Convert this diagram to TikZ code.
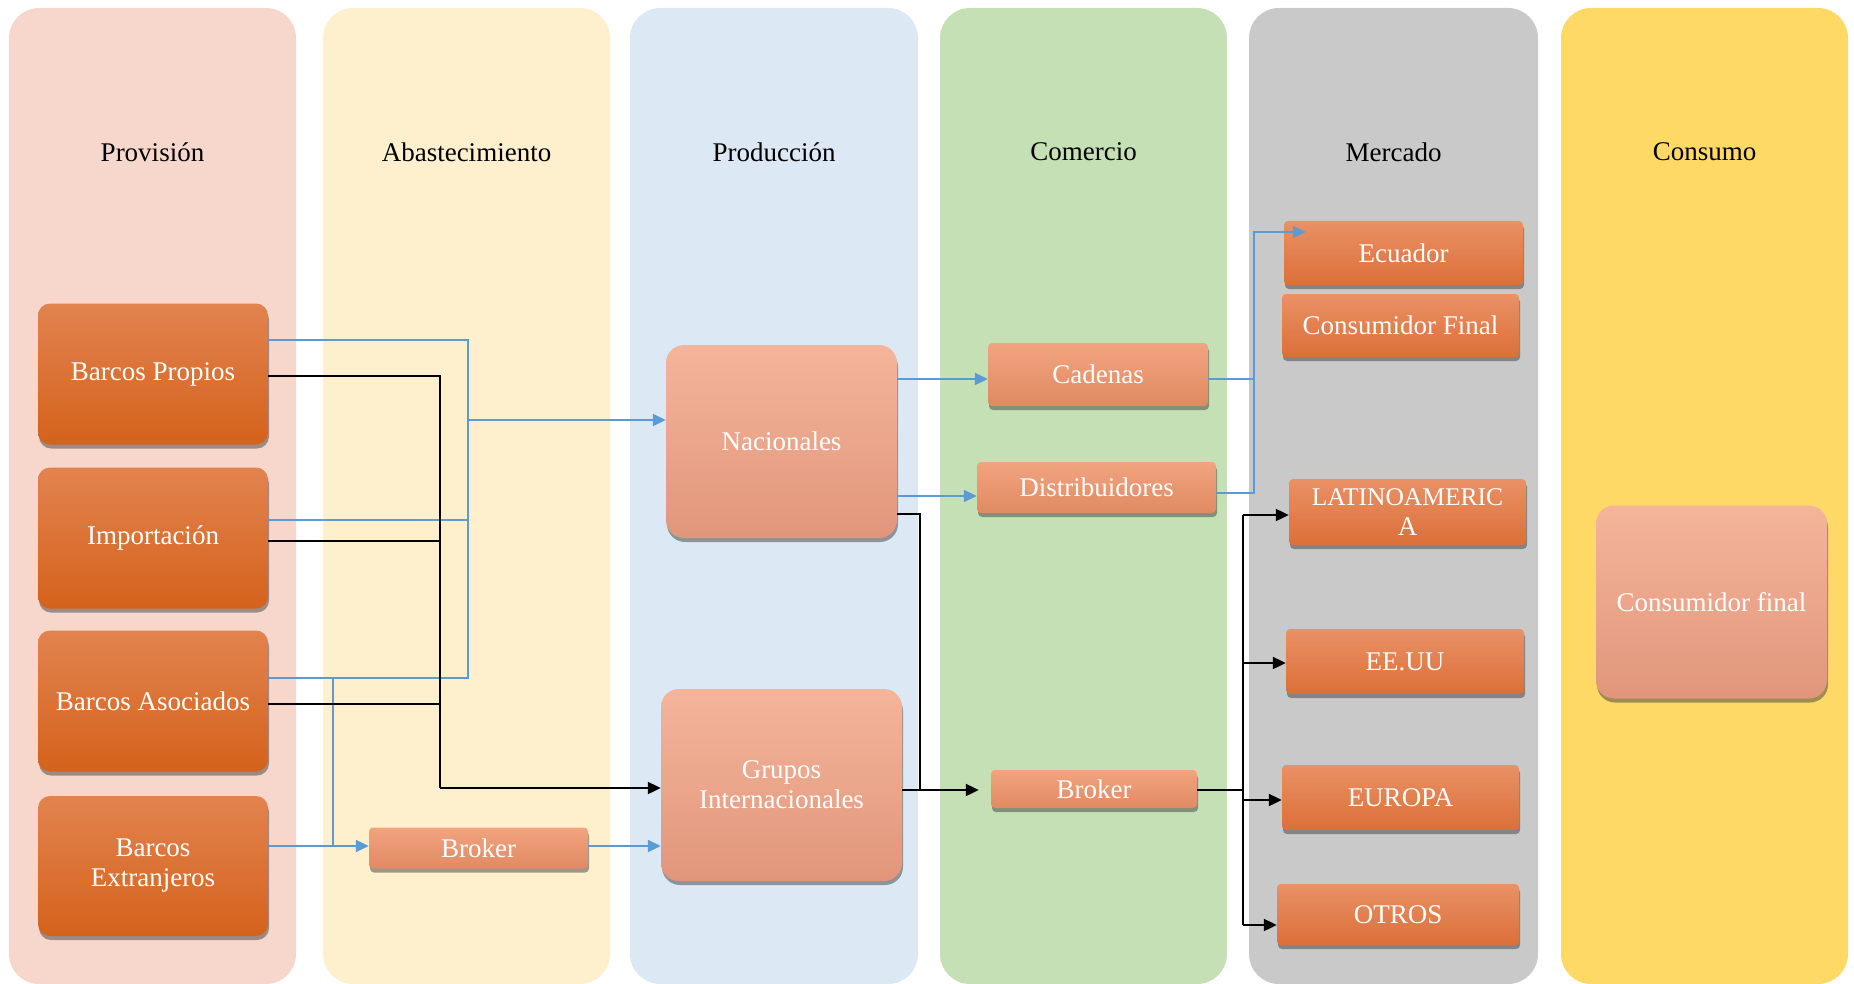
\documentclass[tikz,border=0pt]{standalone}
\usepackage{fontspec}
\setmainfont{Liberation Serif}
\usetikzlibrary{arrows.meta,shadows,calc}
\definecolor{laneA}{HTML}{F7D7CC}
\definecolor{laneB}{HTML}{FFF0CD}
\definecolor{laneC}{HTML}{DDE8F5}
\definecolor{laneD}{HTML}{C5E0B4}
\definecolor{laneE}{HTML}{C9C9C9}
\definecolor{laneF}{HTML}{FFD966}
\definecolor{darkT}{HTML}{E2834F}
\definecolor{darkB}{HTML}{D4621C}
\definecolor{mktT}{HTML}{E99166}
\definecolor{mktB}{HTML}{DC6F38}
\definecolor{salT}{HTML}{F4B59B}
\definecolor{salB}{HTML}{E1967B}
\definecolor{midT}{HTML}{F1A47F}
\definecolor{midB}{HTML}{E08A63}
\definecolor{blueL}{HTML}{5B9BD5}
\tikzset{
  lanetitle/.style={font=\fontsize{27}{30}\selectfont, text=black},
  boxbase/.style={rectangle, text=white, align=center, inner sep=2pt,
    font=\fontsize{27}{30}\selectfont,
    drop shadow={shadow xshift=1pt, shadow yshift=-4pt, opacity=0.5, fill=black!75}},
  darkbox/.style={boxbase, top color=darkT, bottom color=darkB, rounded corners=12pt,
    minimum width=230pt, minimum height=141pt},
  mktbox/.style={boxbase, top color=mktT, bottom color=mktB, rounded corners=4pt,
    minimum width=238pt},
  salbox/.style={boxbase, top color=salT, bottom color=salB, rounded corners=18pt,
    minimum width=231pt, minimum height=193pt},
  midbox/.style={boxbase, top color=midT, bottom color=midB, rounded corners=4pt},
  bl/.style={draw=blueL, line width=2pt},
  bk/.style={draw=black, line width=2.1pt},
  tip/.style={-{Triangle[length=13pt,width=12pt]}}
}
\begin{document}
\begin{tikzpicture}[x=1pt,y=-1pt]
\useasboundingbox (0,0) rectangle (1854,984);
% lanes
\fill[laneA, rounded corners=30pt] (9,8) rectangle (296,984);
\fill[laneB, rounded corners=30pt] (323,8) rectangle (610,984);
\fill[laneC, rounded corners=30pt] (630,8) rectangle (918,984);
\fill[laneD, rounded corners=30pt] (940,8) rectangle (1227,984);
\fill[laneE, rounded corners=30pt] (1249,8) rectangle (1538,984);
\fill[laneF, rounded corners=30pt] (1561,8) rectangle (1848,984);
% titles
\node[lanetitle] (t1) at (152.5,152) {Provisión};
\node[lanetitle] (t2) at (466.5,152) {Abastecimiento};
\node[lanetitle] (t3) at (774,152) {Producción};
\node[lanetitle] (t4) at (1083.5,152) {Comercio};
\node[lanetitle] (t5) at (1393.5,152) {Mercado};
\node[lanetitle] (t6) at (1704.5,152) {Consumo};
% provision
\node[darkbox] (BP) at (153,374) {Barcos Propios};
\node[darkbox] (IM) at (153,538) {Importación};
\node[darkbox] (BA) at (153,701) {Barcos Asociados};
\node[darkbox, minimum height=140pt] (BE) at (153,866) {Barcos\\Extranjeros};
% abastecimiento
\node[midbox, minimum width=219pt, minimum height=41pt] (BrA) at (478.5,848) {Broker};
% produccion
\node[salbox] (NAC) at (781.5,441.5) {Nacionales};
\node[salbox, minimum width=241pt, minimum height=192pt] (GI) at (781.5,785) {Grupos\\Internacionales};
% comercio
\node[midbox, minimum width=220pt, minimum height=63pt] (CAD) at (1098,374.5) {Cadenas};
\node[midbox, minimum width=239pt, minimum height=51pt] (DIS) at (1096.5,487.5) {Distribuidores};
\node[midbox, minimum width=206pt, minimum height=38pt] (BrC) at (1094,789) {Broker};
% mercado
\node[mktbox, minimum width=239pt, minimum height=64pt] (ECU) at (1403.5,253) {Ecuador};
\node[mktbox, minimum width=237pt, minimum height=63pt] (CF) at (1400.5,325.5) {Consumidor Final};
\node[mktbox, minimum width=237pt, minimum height=66pt] (LAT) at (1407.5,512) {\fontsize{25.5}{28}\selectfont LATINOAMERIC\\A};
\node[mktbox, minimum width=238pt, minimum height=65pt] (EEUU) at (1405,661.5) {EE.UU};
\node[mktbox, minimum width=237pt, minimum height=65pt] (EUR) at (1400.5,797.5) {EUROPA};
\node[mktbox, minimum width=242pt, minimum height=61pt] (OTR) at (1398,914.5) {OTROS};
% consumo
\node[salbox] (CFin) at (1711.5,602) {Consumidor final};
% junction coordinates
\coordinate (jb1) at (468,340);
\coordinate (jb2) at (468,520);
\coordinate (jb3) at (468,678);
\coordinate (jbN) at (468,420);
\coordinate (jx1) at (333,678);
\coordinate (jx2) at (333,846);
\coordinate (kb1) at (440,376);
\coordinate (kb2) at (440,541);
\coordinate (kb3) at (440,704);
\coordinate (kb4) at (440,788);
\coordinate (n1) at (897,379);
\coordinate (n2) at (897,496);
\coordinate (m1) at (1254,379);
\coordinate (m2) at (1254,493);
\coordinate (m3) at (1254,232);
\coordinate (o1) at (920,514);
\coordinate (o2) at (920,790);
\coordinate (p0) at (1243,790);
\coordinate (p1) at (1243,515);
\coordinate (p2) at (1243,663);
\coordinate (p3) at (1243,800);
\coordinate (p4) at (1243,925);
% blue connectors (provision)
\draw[bl] (BP.east |- jb1) -- (jb1) -- (jb3) -- (BA.east |- jb3);
\draw[bl] (IM.east |- jb2) -- (jb2);
\draw[bl,tip] (jbN) -- (NAC.west |- jbN);
\draw[bl] (jx1) -- (jx2);
\draw[bl,tip] (BE.east |- jx2) -- (BrA.west |- jx2);
\draw[bl,tip] (BrA.east |- jx2) -- (GI.west |- jx2);
% black connectors (provision)
\draw[bk] (BP.east |- kb1) -- (kb1) -- (kb4);
\draw[bk] (IM.east |- kb2) -- (kb2);
\draw[bk] (BA.east |- kb3) -- (kb3);
\draw[bk,tip] (kb4) -- (GI.west |- kb4);
% produccion to comercio
\draw[bl,tip] (NAC.east |- n1) -- (CAD.west |- n1);
\draw[bl,tip] (NAC.east |- n2) -- (DIS.west |- n2);
\draw[bk] (NAC.east |- o1) -- (o1) -- (o2);
\draw[bk,tip] (GI.east |- o2) -- ($(BrC.west |- o2)+(-12,0)$);
% comercio to mercado
\draw[bl] (CAD.east |- m1) -- (m1);
\draw[bl,tip] (DIS.east |- m2) -- (m2) -- (m3) -- ($(ECU.west |- m3)+(22,0)$);
\draw[bk] (BrC.east |- p0) -- (p0);
\draw[bk] (p1) -- (p4);
\draw[bk,tip] (p1) -- (LAT.west |- p1);
\draw[bk,tip] (p2) -- (EEUU.west |- p2);
\draw[bk,tip] (p3) -- (EUR.west |- p3);
\draw[bk,tip] (p4) -- (OTR.west |- p4);
\end{tikzpicture}
\end{document}
